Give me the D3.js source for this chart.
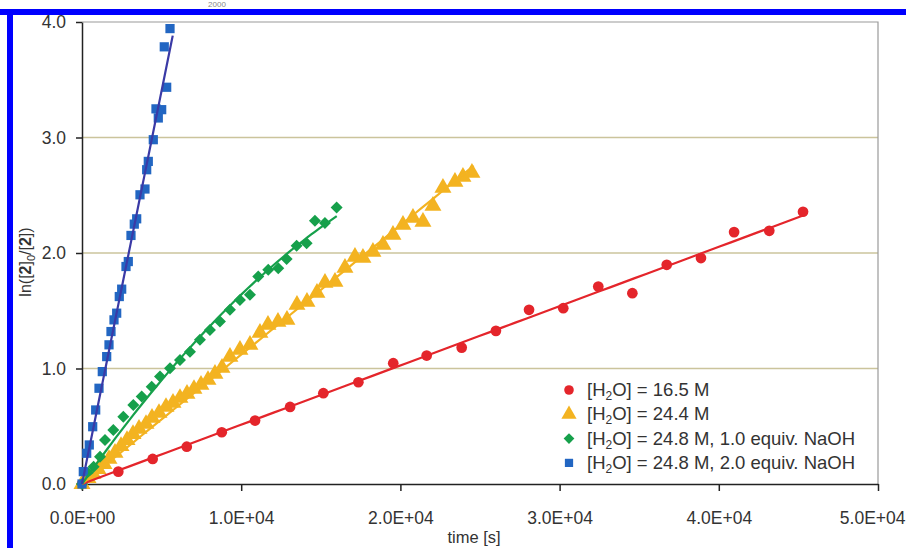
<!DOCTYPE html>
<html><head><meta charset="utf-8">
<script src="https://cdn.jsdelivr.net/npm/d3@7"></script>
<style>body{margin:0;background:#fff}svg{display:block;font-family:"Liberation Sans",Arial,sans-serif}</style>
</head><body>
<svg id="c" width="906" height="548"></svg>
<script>
// ---- data ----
const seriesNames = ["[H2O] = 16.5 M","[H2O] = 24.4 M","[H2O] = 24.8 M, 1.0 equiv. NaOH","[H2O] = 24.8 M, 2.0 equiv. NaOH"];
const redT = [0,2280,4440,6580,8780,10870,13070,15160,17360,19550,21650,23850,26000,28080,30230,32430,34570,36730,38880,40960,43170,45290];
const redY = [0,0.107,0.217,0.323,0.448,0.549,0.667,0.786,0.881,1.046,1.112,1.181,1.326,1.508,1.522,1.710,1.652,1.898,1.956,2.181,2.192,2.357];
const yelT = [0,377,691,1005,1382,1696,2073,2450,2827,3203,3580,4020,4397,4836,5276,5716,6155,6595,7034,7474,7914,8353,8793,9295,9923,10551,11179,11682,12310,12875,13503,14131,14759,15262,15890,16518,17146,17648,18276,18905,19533,20161,20789,21417,22045,22673,23427,23929,24494];
const yelY = [0,0.052,0.087,0.130,0.173,0.217,0.269,0.329,0.381,0.433,0.477,0.520,0.572,0.615,0.667,0.702,0.745,0.780,0.823,0.858,0.901,0.953,1.005,1.101,1.161,1.205,1.309,1.378,1.404,1.421,1.551,1.577,1.655,1.742,1.750,1.872,1.967,1.958,2.010,2.071,2.158,2.244,2.305,2.270,2.409,2.565,2.617,2.660,2.695];
const grnT = [0,396,729,1130,1444,1966,2594,3222,3749,4377,4898,5526,6154,6782,7410,8038,8666,9294,9922,10550,11071,11700,12328,12855,13483,14111,14632,15260,15995];
const grnY = [0,0.093,0.150,0.237,0.381,0.468,0.583,0.685,0.757,0.843,0.930,1.002,1.074,1.146,1.248,1.334,1.406,1.508,1.594,1.638,1.796,1.854,1.869,1.947,2.062,2.085,2.279,2.259,2.394];
const bluT = [0,82,295,458,672,860,1068,1275,1551,1696,1821,2010,2179,2342,2493,2763,2908,3077,3284,3435,3642,3956,4063,4164,4478,4792,5005,4647,5319,5168,5528];
const bluY = [0,0.107,0.266,0.338,0.496,0.641,0.829,0.973,1.103,1.205,1.320,1.421,1.479,1.623,1.687,1.883,1.926,2.152,2.250,2.296,2.504,2.554,2.721,2.793,2.981,3.169,3.241,3.248,3.435,3.785,3.943];
const fitDegree = [1,1,2,1];
const fitEndT = [45290,24600,16000,5700];
const xTicks = [0,10000,20000,30000,40000,50000];
const xTickLabels = ["0.0E+00","1.0E+04","2.0E+04","3.0E+04","4.0E+04","5.0E+04"];
const yTicks = [0,1,2,3,4];
const yTickLabels = ["0.0","1.0","2.0","3.0","4.0"];

const colors = ["#e4252b","#f3b321","#16a04b","#2266c2"];
const lineColors = ["#e4252b","#f3b321","#16a04b","#3a3aa6"];
const symbols = [d3.symbolCircle,d3.symbolTriangle,d3.symbolSquare,d3.symbolSquare];
const symRot = [0,0,45,0];
const symSizes = [90,125,72,85];

const series = [[redT,redY],[yelT,yelY],[grnT,grnY],[bluT,bluY]].map(([t,y])=>t.map((v,i)=>({t:v,y:y[i]})));

const svg = d3.select("#c");
const x = d3.scaleLinear().domain([0,50000]).range([82,878]);
const y = d3.scaleLinear().domain([0,4]).range([484,22]);

// frame
svg.append("text").attr("x",217).attr("y",7).attr("text-anchor","middle").attr("font-size",8).attr("fill","#888").text("2000");
svg.append("rect").attr("x",0).attr("y",9).attr("width",906).attr("height",6).attr("fill","#0000ff");
svg.append("rect").attr("x",7).attr("y",9).attr("width",6).attr("height",539).attr("fill","#0000ff");

// grid
svg.append("g").selectAll("line").data(yTicks.filter(d=>d>0&&d<4)).join("line")
  .attr("x1",x(0)).attr("x2",x(50000)).attr("y1",d=>y(d)).attr("y2",d=>y(d))
  .attr("stroke","#cbc49c").attr("stroke-width",1.3);
// border top/right
svg.append("path").attr("d",`M${x(0)},${y(4)}H${x(50000)}V${y(0)}`).attr("fill","none").attr("stroke","#9a9a9a").attr("stroke-width",1.2);

// axes
const gx = svg.append("g").attr("transform",`translate(0,${y(0)})`)
  .call(d3.axisBottom(x).tickValues(xTicks).tickFormat((d,i)=>xTickLabels[i]).tickSize(7).tickSizeOuter(0).tickPadding(21));
const gy = svg.append("g").attr("transform",`translate(${x(0)},0)`)
  .call(d3.axisLeft(y).tickValues(yTicks).tickFormat((d,i)=>yTickLabels[i]).tickSize(6).tickSizeOuter(0).tickPadding(10));
[gx,gy].forEach(g=>{
  g.select(".domain").attr("stroke","#222").attr("stroke-width",1.5);
  g.selectAll(".tick line").attr("stroke","#222").attr("stroke-width",1.5);
  g.selectAll(".tick text").attr("font-size",17.5).attr("fill","#333").attr("font-family","Liberation Sans, Arial, sans-serif");
});
// keep the last x label inside the picture
gx.selectAll(".tick text").filter((d,i)=>i===xTicks.length-1).attr("text-anchor","end").attr("x",905-x(50000));

// titles
svg.append("text").attr("x",474).attr("y",543).attr("text-anchor","middle").attr("font-size",16.5).attr("fill","#333").text("time [s]");
const yt = svg.append("text").attr("transform","translate(31,262) rotate(-90)").attr("text-anchor","middle").attr("font-size",16).attr("fill","#333");
yt.append("tspan").text("ln([");
yt.append("tspan").attr("font-weight","bold").text("2");
yt.append("tspan").text("]");
yt.append("tspan").attr("font-size",11).attr("dy",4).text("0");
yt.append("tspan").attr("dy",-4).text("/[");
yt.append("tspan").attr("font-weight","bold").text("2");
yt.append("tspan").text("])");

// fits
function fit(pts,deg){
  if(deg===1){const a=d3.sum(pts,p=>p.t*p.y)/d3.sum(pts,p=>p.t*p.t);return t=>a*t;}
  const s11=d3.sum(pts,p=>p.t**2),s12=d3.sum(pts,p=>p.t**3),s22=d3.sum(pts,p=>p.t**4);
  const b1=d3.sum(pts,p=>p.t*p.y),b2=d3.sum(pts,p=>p.t*p.t*p.y);
  const det=s11*s22-s12*s12;const a=(b1*s22-b2*s12)/det,b=(s11*b2-s12*b1)/det;
  return t=>a*t+b*t*t;
}

// markers
series.forEach((pts,i)=>{
  svg.append("g").selectAll("path").data(pts).join("path")
    .attr("transform",d=>`translate(${x(d.t)},${y(d.y)}) rotate(${symRot[i]})`)
    .attr("d",d3.symbol().type(symbols[i]).size(symSizes[i]))
    .attr("fill",colors[i]);
});
series.forEach((pts,i)=>{
  const f=fit(pts,fitDegree[i]);
  const ts=d3.range(0,fitEndT[i]+1,fitEndT[i]/60);
  svg.append("path").datum(ts)
    .attr("d",d3.line().x(t=>x(t)).y(t=>y(f(t))))
    .attr("fill","none").attr("stroke",lineColors[i]).attr("stroke-width",2.2);
});

// legend
const lg = svg.append("g");
seriesNames.forEach((name,i)=>{
  const yy = 390 + i*24.3;
  lg.append("path").attr("transform",`translate(569,${yy}) rotate(${symRot[i]})`).attr("d",d3.symbol().type(symbols[i]).size(symSizes[i]*0.8)).attr("fill",colors[i]);
  const tx = lg.append("text").attr("x",587).attr("y",yy+6).attr("font-size",18.5).attr("fill","#333");
  const parts = name.split("H2O");
  tx.append("tspan").text(parts[0]+"H");
  tx.append("tspan").attr("font-size",12).attr("dy",4).text("2");
  tx.append("tspan").attr("dy",-4).text("O"+parts[1]);
});
</script>
</body></html>
